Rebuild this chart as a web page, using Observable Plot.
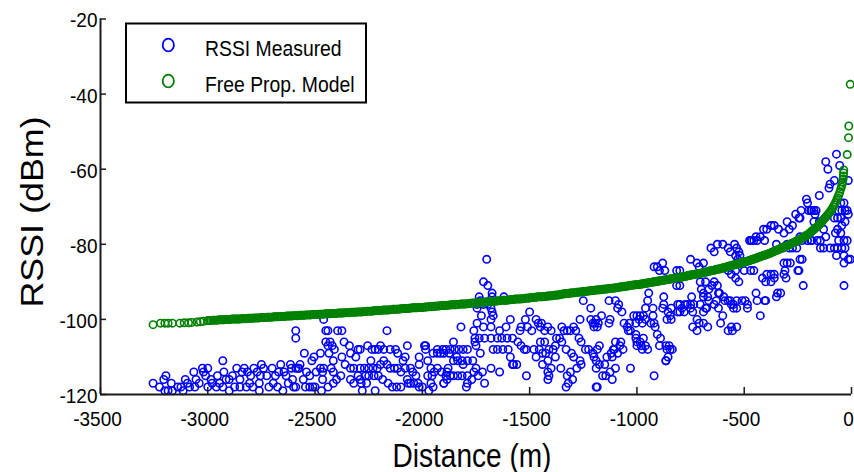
<!DOCTYPE html>
<html>
<head>
<meta charset="utf-8">
<script src="https://cdn.jsdelivr.net/npm/d3@7"></script>
<script src="https://cdn.jsdelivr.net/npm/@observablehq/plot@0.6"></script>
<style>
  body { margin: 0; background: #fff; }
  #chart { width: 854px; height: 472px; }
</style>
</head>
<body>
<div id="chart"></div>
<script>
// ---------- data ----------
const xTicks = [-3500, -3000, -2500, -2000, -1500, -1000, -500, 0];
const yTicks = [-120, -100, -80, -60, -40, -20];
const seriesNames = ["RSSI Measured", "Free Prop. Model"];
const seriesColors = ["#0000ff", "#008000"];
const xLabel = "Distance (m)";
const yLabel = "RSSI (dBm)";

// [distance (m), RSSI (dBm)]
const measured = [
  [-3255,-117],[-3225,-118],[-3205,-116],[-3195,-115],[-3200,-119],[-3185,-119],[-3170,-117],[-3165,-119],[-3140,-118],[-3125,-118],
  [-3115,-119],[-3105,-116],[-3095,-117],[-3085,-118],[-3065,-114],[-3060,-118],[-3055,-116],[-3040,-117],[-3025,-113],[-3020,-114],
  [-3010,-115],[-3000,-113],[-3000,-118],[-2985,-116],[-2980,-117],[-2960,-118],[-2955,-115],[-2945,-117],[-2930,-111],[-2930,-118],
  [-2925,-114],[-2915,-116],[-2900,-116],[-2900,-119],[-2885,-115],[-2875,-118],[-2865,-113],[-2850,-118],[-2850,-116],[-2840,-114],
  [-2830,-113],[-2820,-118],[-2815,-114],[-2805,-117],[-2800,-115],[-2790,-118],[-2785,-113],[-2770,-114],[-2760,-117],[-2760,-119],
  [-2755,-115],[-2750,-112],[-2740,-113],[-2725,-115],[-2715,-118],[-2700,-113],[-2695,-117],[-2685,-115],[-2675,-118],[-2670,-114],
  [-2660,-112],[-2650,-119],[-2645,-114],[-2635,-115],[-2625,-117],[-2615,-112],[-2605,-116],[-2600,-118],[-2590,-103],[-2590,-105],
  [-2580,-113],
  [-2610,-113],[-2590,-113],[-2575,-113],[-2570,-112],[-2550,-109],[-2540,-114],[-2545,-118],[-2525,-118],[-2510,-118],[-2500,-118],
  [-2590,-118],[-2515,-111],[-2505,-110],[-2475,-113],[-2465,-114],[-2460,-113],[-2475,-109],[-2450,-103],[-2440,-103],[-2460,-100],
  [-2450,-106],[-2440,-107],[-2430,-106],[-2420,-107],[-2410,-108],[-2435,-109],[-2415,-111],[-2395,-103],[-2375,-103],[-2425,-113],
  [-2415,-114],[-2380,-115],[-2415,-117],[-2400,-116],[-2365,-106],[-2375,-110],[-2360,-112],[-2340,-107],[-2335,-109],[-2335,-113],
  [-2320,-113],[-2300,-108],[-2290,-108],[-2290,-113],[-2270,-113],[-2250,-113],[-2230,-113],[-2210,-113],[-2255,-107],[-2235,-108],
  [-2220,-108],[-2335,-116],[-2320,-117],[-2300,-115],[-2290,-116],[-2280,-119],[-2265,-115],[-2250,-115],[-2225,-115],[-2205,-115],
  [-2285,-117],[-2260,-117],[-2205,-108],[-2195,-107],[-2180,-108],[-2165,-103],[-2150,-108],[-2165,-112],[-2150,-113],[-2130,-113],
  [-2115,-113],[-2125,-108],[-2115,-109],[-2140,-118],[-2120,-118],[-2100,-118],[-2080,-110],[-2070,-107],[-2090,-111],[-2080,-113],
  [-2070,-116],[-2065,-117],[-2055,-113],[-2045,-114],[-2030,-115],[-2015,-110],[-2015,-112],[-2055,-117],[-2040,-117],[-2020,-117],
  [-2015,-118],[-2000,-118],[-1985,-107],[-1985,-108],[-1975,-111],[-1960,-113],[-1945,-114],[-1930,-113],[-1975,-115],[-1955,-115],
  [-1910,-114],[-1890,-115],[-1950,-118],[-1930,-109],[-1915,-109],[-1900,-109],[-1875,-109],[-1900,-117],[-1885,-116],[-2195,-112],
  [-2240,-111],[-2310,-110],[-2180,-111],[-2100,-114],[-2185,-116],[-2160,-117],[-2220,-119],[-2465,-116],[-2495,-114],[-2525,-115],
  [-2555,-116],[-2440,-118],[-2470,-119],[-1970,-119],[-1960,-117],[-1950,-109],[-1930,-108],[-1905,-108],[-1990,-107],
  [-1700,-84],[-1715,-90],[-1695,-91],[-1675,-93],[-1675,-94],[-1735,-94],[-1730,-95],[-1745,-96],[-1745,-97],[-1715,-96],
  [-1695,-96],[-1620,-94],[-1680,-97],[-1675,-98],[-1670,-99],[-1680,-100],[-1725,-99],[-1745,-101],[-1820,-102],[-1760,-103],
  [-1715,-102],[-1680,-102],[-1640,-103],[-1610,-102],[-1590,-100],[-1650,-105],[-1630,-105],[-1605,-105],[-1580,-105],[-1755,-105],
  [-1735,-105],[-1710,-105],[-1680,-105],[-1755,-106],[-1750,-107],[-1890,-108],[-1870,-108],[-1850,-108],[-1830,-108],[-1810,-108],
  [-1790,-108],[-1855,-106],[-1855,-111],[-1835,-111],[-1815,-111],[-1790,-111],[-1885,-114],[-1855,-115],[-1835,-115],[-1815,-115],
  [-1790,-115],[-1760,-114],[-1900,-117],[-1795,-118],[-1710,-117],[-1680,-113],[-1640,-114],[-1670,-108],[-1650,-108],[-1625,-108],
  [-1600,-108],[-1575,-112],[-1500,-98],[-1520,-100],[-1540,-102],[-1545,-103],[-1510,-102],[-1490,-103],[-1470,-100],[-1460,-101],
  [-1445,-101],[-1555,-106],[-1540,-107],[-1515,-108],[-1525,-108],[-1515,-115],[-1480,-108],[-1455,-108],[-1440,-109],[-1425,-109],
  [-1410,-108],[-1390,-108],[-1450,-102],[-1430,-103],[-1415,-102],[-1400,-103],[-1450,-106],[-1430,-106],[-1415,-111],[-1415,-114],
  [-1415,-116],[-1380,-107],[-1375,-105],[-1360,-105],[-1350,-102],[-1340,-103],[-1325,-103],[-1310,-103],[-1295,-102],[-1285,-103],
  [-1355,-113],[-1325,-115],[-1330,-118],[-1310,-114],[-1265,-100],[-1250,-95],[-1215,-97],[-1270,-105],[-1260,-106],[-1240,-108],
  [-1225,-108],[-1205,-109],[-1215,-100],[-1200,-102],[-1190,-100],[-1185,-102],[-1190,-111],[-1190,-113],[-1190,-118],[-1350,-106],
  [-1330,-108],[-1305,-109],[-1295,-110],[-1265,-111],[-1260,-112],[-1880,-113],[-1870,-115],[-1840,-110],[-1810,-112],[-1770,-116],
  [-1750,-113],[-1740,-115],[-1720,-114],[-1765,-111],[-1730,-109],[-1790,-117],[-1580,-112],[-1590,-110],[-1560,-112],[-1470,-110],
  [-1440,-112],[-1400,-113],[-1380,-110],[-1300,-116],[-1280,-113],[-1320,-117],[-1410,-115],
  [-1205,-101],[-1195,-101],[-1180,-101],[-1165,-99],[-1130,-95],[-1100,-95],[-1090,-97],[-1085,-96],[-1070,-98],[-1125,-100],
  [-1130,-101],[-1060,-101],[-1045,-102],[-1035,-101],[-1040,-103],[-1015,-99],[-1000,-99],[-985,-99],[-970,-99],[-975,-101],
  [-960,-100],[-1005,-101],[-990,-100],[-925,-97],[-925,-99],[-920,-86],[-905,-86],[-895,-87],[-880,-85],[-870,-87],
  [-945,-93],[-950,-95],[-960,-97],[-875,-94],[-875,-96],[-880,-97],[-815,-87],[-800,-87],[-815,-91],[-800,-91],
  [-855,-98],[-845,-99],[-840,-97],[-810,-96],[-800,-96],[-790,-97],[-775,-96],[-765,-96],[-750,-96],[-745,-94],
  [-735,-96],[-705,-96],[-935,-101],[-915,-102],[-905,-104],[-890,-105],[-895,-107],[-860,-100],[-840,-100],[-810,-98],
  [-800,-98],[-780,-98],[-750,-97],[-740,-98],[-720,-100],[-710,-101],[-690,-98],[-860,-108],[-855,-110],[-845,-108],
  [-865,-111],[-920,-115],[-1030,-113],[-1005,-104],[-1000,-106],[-985,-106],[-970,-105],[-960,-107],[-950,-108],[-975,-108],
  [-1005,-105],[-1000,-107],[-980,-107],[-1075,-106],[-1080,-107],[-1100,-106],[-1105,-108],[-1115,-110],[-1120,-109],[-1090,-109],
  [-1065,-108],[-1110,-108],[-1185,-108],[-1175,-107],[-1200,-110],[-1175,-112],[-1150,-112],[-1140,-110],[-1125,-114],[-1100,-113],
  [-1160,-115],[-1145,-115],[-1115,-116],[-1185,-118],[-750,-84],[-720,-85],[-710,-86],[-690,-85],[-655,-81],[-640,-82],
  [-625,-80],[-600,-80],[-575,-81],[-545,-80],[-705,-90],[-680,-90],[-650,-91],[-640,-90],[-690,-94],[-665,-95],
  [-700,-92],[-690,-93],[-670,-94],[-665,-92],[-675,-97],[-680,-97],[-640,-96],[-630,-95],[-600,-99],[-610,-101],
  [-575,-103],[-560,-102],[-535,-97],[-620,-97],[-560,-96],[-550,-97],[-575,-87],[-560,-88],[-540,-87],[-530,-84],
  [-520,-83],[-595,-94],[-615,-93],[-625,-91],[-620,-93],[-590,-95],[-575,-95],[-485,-97],[-690,-101],[-670,-102],
  [-740,-102],[-720,-103],[-865,-107],[-850,-107],[-835,-108],[-865,-111],[-1030,-103],[-920,-101],
  [-70,-56],[-120,-58],[-110,-60],[-55,-59],[-15,-63],[-100,-64],[-80,-63],[-105,-65],[-150,-67],[-210,-68],
  [-205,-69],[-190,-71],[-175,-71],[-165,-71],[-170,-72],[-185,-71],[-200,-71],[-50,-69],[-35,-69],[-60,-71],
  [-45,-71],[-20,-71],[-15,-72],[-30,-71],[-235,-71],[-245,-73],[-260,-72],[-240,-73],[-300,-74],[-275,-75],
  [-290,-76],[-315,-77],[-340,-76],[-360,-75],[-375,-75],[-395,-76],[-410,-76],[-425,-78],[-440,-79],[-445,-78],
  [-465,-79],[-470,-79],[-475,-79],[-455,-79],[-405,-79],[-175,-74],[-150,-74],[-130,-76],[-120,-78],[-145,-79],
  [-160,-79],[-185,-79],[-190,-79],[-205,-79],[-215,-78],[-230,-79],[-240,-78],[-80,-73],[-65,-73],[-50,-73],
  [-45,-75],[-30,-74],[-65,-76],[-75,-77],[-60,-79],[-50,-77],[-35,-79],[-20,-79],[-30,-81],[-45,-81],
  [-35,-83],[-15,-84],[-5,-84],[-35,-85],[-100,-81],[-80,-81],[-65,-81],[-70,-83],[-145,-81],[-130,-81],
  [-255,-81],[-275,-81],[-350,-80],[-320,-81],[-300,-80],[-290,-81],[-230,-84],[-245,-87],[-240,-84],[-315,-85],
  [-300,-85],[-285,-85],[-310,-87],[-250,-87],[-315,-88],[-305,-89],[-360,-88],[-375,-88],[-395,-88],[-415,-89],
  [-400,-90],[-375,-90],[-360,-89],[-345,-93],[-330,-93],[-350,-94],[-445,-93],[-440,-95],[-400,-95],[-405,-95],
  [-425,-99],[-495,-95],[-485,-96],[-510,-95],[-535,-95],[-565,-95],[-550,-96],[-535,-102],[-555,-103],[-470,-87],
  [-455,-87],[-500,-87],[-540,-89],[-525,-90],[-565,-82],[-535,-81],[-525,-82],[-540,-83],[-35,-91],[-225,-91]
];

// [distance (m), model RSSI (dBm)]
const model = [
  [-3255,-101.4],[-3220,-101.0],[-3200,-101.0],[-3185,-101.0],[-3165,-101.0],[-3130,-101.0],[-3110,-100.9],[-3090,-100.9],[-3075,-100.8],[-3050,-100.7],[-3035,-100.6],[-3020,-100.5],
  [-3000,-100.3],[-2985,-100.3],[-2970,-100.2],[-2955,-100.2],[-2940,-100.1],[-2925,-100.1],[-2910,-100.0],[-2895,-100.0],[-2880,-99.9],[-2865,-99.9],[-2850,-99.9],[-2835,-99.8],[-2820,-99.8],[-2805,-99.7],
  [-2790,-99.7],[-2775,-99.6],[-2760,-99.6],[-2745,-99.5],[-2730,-99.5],[-2715,-99.4],[-2700,-99.4],[-2685,-99.3],[-2670,-99.3],[-2655,-99.2],[-2640,-99.2],[-2625,-99.1],[-2610,-99.1],
  [-2595,-99.0],[-2580,-99.0],[-2565,-98.9],[-2550,-98.9],[-2535,-98.8],[-2520,-98.8],[-2505,-98.7],[-2490,-98.7],[-2475,-98.6],[-2460,-98.6],[-2445,-98.5],[-2430,-98.5],[-2415,-98.4],[-2400,-98.4],
  [-2385,-98.3],[-2370,-98.3],[-2355,-98.2],[-2340,-98.2],[-2325,-98.1],[-2310,-98.1],[-2295,-98.0],[-2280,-98.0],[-2265,-97.9],[-2250,-97.8],[-2235,-97.8],[-2220,-97.7],[-2205,-97.6],
  [-2190,-97.6],[-2175,-97.5],[-2160,-97.5],[-2145,-97.4],[-2130,-97.3],[-2115,-97.3],[-2100,-97.2],[-2085,-97.1],[-2070,-97.1],[-2055,-97.0],[-2040,-96.9],[-2025,-96.9],[-2010,-96.8],
  [-1995,-96.8],[-1980,-96.7],[-1965,-96.6],[-1950,-96.6],[-1935,-96.5],[-1920,-96.4],[-1905,-96.3],[-1890,-96.3],[-1875,-96.2],[-1860,-96.1],[-1845,-96.1],[-1830,-96.0],[-1815,-95.9],[-1800,-95.9],
  [-1785,-95.8],[-1770,-95.7],[-1755,-95.6],[-1740,-95.6],[-1725,-95.5],[-1710,-95.4],[-1695,-95.3],[-1680,-95.3],[-1665,-95.2],[-1650,-95.1],[-1635,-95.0],[-1620,-94.9],[-1605,-94.9],
  [-1590,-94.8],[-1575,-94.7],[-1560,-94.6],[-1545,-94.6],[-1530,-94.5],[-1515,-94.4],[-1500,-94.3],[-1485,-94.2],[-1470,-94.1],[-1455,-94.0],[-1440,-94.0],[-1425,-93.9],[-1410,-93.8],
  [-1395,-93.7],[-1380,-93.6],[-1365,-93.5],[-1350,-93.3],[-1335,-93.2],[-1320,-93.1],[-1305,-93.0],[-1290,-92.9],[-1275,-92.8],[-1260,-92.7],[-1245,-92.6],[-1230,-92.5],[-1215,-92.4],
  [-1200,-92.3],[-1185,-92.2],[-1170,-92.1],[-1155,-92.0],[-1140,-91.9],[-1125,-91.8],[-1110,-91.7],[-1095,-91.6],[-1080,-91.4],[-1065,-91.3],[-1050,-91.2],[-1035,-91.0],[-1020,-90.9],[-1005,-90.8],
  [-990,-90.7],[-980,-90.6],[-970,-90.5],[-960,-90.4],[-950,-90.3],[-940,-90.2],[-930,-90.1],[-920,-90.0],[-910,-89.9],[-900,-89.8],[-890,-89.7],[-880,-89.6],[-870,-89.5],[-860,-89.4],[-850,-89.3],[-840,-89.2],[-830,-89.1],[-820,-89.0],[-810,-88.9],
  [-800,-88.8],[-790,-88.7],[-780,-88.6],[-770,-88.5],[-760,-88.3],[-750,-88.2],[-740,-88.1],[-730,-88.0],[-720,-87.9],[-710,-87.8],
  [-700,-87.7],[-690,-87.5],[-680,-87.4],[-670,-87.3],[-660,-87.1],[-650,-87.0],[-640,-86.9],[-630,-86.7],[-620,-86.6],[-610,-86.5],
  [-600,-86.3],[-590,-86.2],[-580,-86.0],[-570,-85.8],[-560,-85.7],[-550,-85.5],[-540,-85.4],[-530,-85.2],[-520,-85.1],[-510,-84.9],
  [-500,-84.7],[-490,-84.6],[-480,-84.4],[-470,-84.2],[-460,-84.0],[-450,-83.8],[-440,-83.6],[-430,-83.4],[-420,-83.2],[-410,-83.0],
  [-400,-82.8],[-390,-82.6],[-380,-82.4],[-370,-82.1],[-360,-81.9],[-350,-81.6],[-340,-81.4],[-330,-81.1],[-320,-80.9],[-310,-80.6],
  [-300,-80.4],[-295,-80.3],[-290,-80.1],[-285,-80.0],[-280,-79.8],[-275,-79.7],[-270,-79.6],[-265,-79.4],[-260,-79.3],[-255,-79.1],
  [-250,-79.0],[-245,-78.8],[-240,-78.7],[-235,-78.5],[-230,-78.3],[-225,-78.2],[-220,-78.0],[-215,-77.8],[-210,-77.6],[-205,-77.5],
  [-200,-77.3],[-195,-77.0],[-190,-76.8],[-185,-76.5],[-180,-76.3],[-175,-76.0],[-170,-75.8],[-165,-75.5],[-160,-75.3],[-155,-75.0],
  [-150,-74.8],[-145,-74.5],[-140,-74.1],[-135,-73.8],[-130,-73.4],[-125,-73.1],[-120,-72.8],[-115,-72.4],[-110,-72.1],[-105,-71.7],
  [-100,-71.4],[-95,-70.9],[-90,-70.5],[-85,-70.0],[-80,-69.5],[-75,-68.9],[-70,-68.3],[-65,-67.6],[-60,-67.0],[-55,-66.2],
  [-50,-65.3],[-47,-64.7],[-44,-64.1],[-41,-63.4],[-39,-62.6],[-38,-61.8],[-37,-61.0],[-36,-60.2],
  [-20,-56.1],[-14,-51.6],[-12.5,-48.5],[-6,-37.4]
];

// further model points in between (the band is densely sampled in the reference)
const modelDense = [
  [-2992,-100.3],[-2977,-100.2],[-2962,-100.2],[-2947,-100.1],[-2932,-100.1],[-2917,-100.0],[-2902,-100.0],[-2887,-99.9],[-2872,-99.9],[-2857,-99.9],[-2842,-99.8],[-2827,-99.8],[-2812,-99.7],[-2797,-99.7],
  [-2782,-99.6],[-2767,-99.6],[-2752,-99.5],[-2737,-99.5],[-2722,-99.4],[-2707,-99.4],[-2692,-99.3],[-2677,-99.3],[-2662,-99.2],[-2647,-99.2],[-2632,-99.1],[-2617,-99.1],[-2602,-99.0],
  [-2587,-99.0],[-2572,-98.9],[-2557,-98.9],[-2542,-98.8],[-2527,-98.8],[-2512,-98.7],[-2497,-98.7],[-2482,-98.6],[-2467,-98.6],[-2452,-98.5],[-2437,-98.5],[-2422,-98.4],[-2407,-98.4],[-2392,-98.3],
  [-2377,-98.3],[-2362,-98.2],[-2347,-98.2],[-2332,-98.1],[-2317,-98.1],[-2302,-98.0],[-2287,-98.0],[-2272,-97.9],[-2257,-97.8],[-2242,-97.8],[-2227,-97.7],[-2212,-97.6],[-2197,-97.6],
  [-2182,-97.5],[-2167,-97.5],[-2152,-97.4],[-2137,-97.3],[-2122,-97.3],[-2107,-97.2],[-2092,-97.1],[-2077,-97.1],[-2062,-97.0],[-2047,-96.9],[-2032,-96.9],[-2017,-96.8],[-2002,-96.8],
  [-1987,-96.7],[-1972,-96.6],[-1957,-96.6],[-1942,-96.5],[-1927,-96.4],[-1912,-96.3],[-1897,-96.3],[-1882,-96.2],[-1867,-96.1],[-1852,-96.1],[-1837,-96.0],[-1822,-95.9],[-1807,-95.9],[-1792,-95.8],
  [-1777,-95.7],[-1762,-95.6],[-1747,-95.6],[-1732,-95.5],[-1717,-95.4],[-1702,-95.3],[-1687,-95.3],[-1672,-95.2],[-1657,-95.1],[-1642,-95.0],[-1627,-94.9],[-1612,-94.9],[-1597,-94.8],
  [-1582,-94.7],[-1567,-94.6],[-1552,-94.6],[-1537,-94.5],[-1522,-94.4],[-1507,-94.3],[-1492,-94.2],[-1477,-94.1],[-1462,-94.0],[-1447,-94.0],[-1432,-93.9],[-1417,-93.8],[-1402,-93.7],
  [-1387,-93.6],[-1372,-93.5],[-1357,-93.4],[-1342,-93.2],[-1327,-93.1],[-1312,-93.0],[-1297,-92.9],[-1282,-92.8],[-1267,-92.7],[-1252,-92.6],[-1237,-92.5],[-1222,-92.4],[-1207,-92.3],
  [-1192,-92.2],[-1177,-92.1],[-1162,-92.0],[-1147,-91.9],[-1132,-91.8],[-1117,-91.7],[-1102,-91.6],[-1087,-91.5],[-1072,-91.3],[-1057,-91.2],[-1042,-91.1],[-1027,-90.9],[-1012,-90.8],[-997,-90.7],
  [-985,-90.65],[-975,-90.55],[-965,-90.45],[-955,-90.35],[-945,-90.25],[-935,-90.15],[-925,-90.05],[-915,-89.95],[-905,-89.85],[-895,-89.75],[-885,-89.65],[-875,-89.55],[-865,-89.45],[-855,-89.35],[-845,-89.25],[-835,-89.15],[-825,-89.05],[-815,-88.95],[-805,-88.85],
  [-795,-88.75],[-785,-88.65],[-775,-88.55],[-765,-88.4],[-755,-88.25],[-745,-88.15],[-735,-88.05],[-725,-87.95],[-715,-87.85],[-705,-87.75],
  [-695,-87.6],[-685,-87.45],[-675,-87.35],[-665,-87.2],[-655,-87.05],[-645,-86.95],[-635,-86.8],[-625,-86.65],[-615,-86.55],[-605,-86.4],
  [-595,-86.25],[-585,-86.1],[-575,-85.9],[-565,-85.75],[-555,-85.6],[-545,-85.45],[-535,-85.3],[-525,-85.15],[-515,-85.0],[-505,-84.8],
  [-495,-84.65],[-485,-84.5],[-475,-84.3],[-465,-84.1],[-455,-83.9],[-445,-83.7],[-435,-83.5],[-425,-83.3],[-415,-83.1],[-405,-82.9],
  [-395,-82.7],[-385,-82.5],[-375,-82.25],[-365,-82.0],[-355,-81.75],[-345,-81.5],[-335,-81.25],[-325,-81.0],[-315,-80.75],[-305,-80.5]
];

// ---------- chart ----------
const W = 854, H = 472;
const mL = 100, mR = 3, mT = 18.5, mB = 78;
const innerW = W - mL - mR, innerH = H - mT - mB;
const font = "'Liberation Sans', Arial, Helvetica, sans-serif";
const axisColor = "#1a1a1a";
const dotR = 3.7, dotSW = 1.6;
const modelAll = model.concat(modelDense);

const svg = Plot.plot({
  width: W, height: H,
  marginLeft: mL, marginRight: mR, marginTop: mT, marginBottom: mB,
  style: { fontFamily: font, fontSize: "20px", background: "#fff", color: "#000" },
  x: { domain: [xTicks[0], xTicks[xTicks.length - 1]], axis: null },
  y: { domain: [yTicks[0], yTicks[yTicks.length - 1]], axis: null },
  marks: [
    Plot.dot(measured, { x: d => d[0], y: d => d[1], r: dotR, stroke: seriesColors[0], strokeWidth: dotSW, fill: "none" }),
    Plot.dot(modelAll, { x: d => d[0], y: d => d[1], r: dotR, stroke: seriesColors[1], strokeWidth: dotSW, fill: "none" }),
    // inward tick marks
    Plot.ruleX(xTicks, { x: d => d, insetTop: innerH - 7, stroke: axisColor, strokeWidth: 1.5 }),
    Plot.ruleY(yTicks, { y: d => d, insetRight: innerW - 6, stroke: axisColor, strokeWidth: 1.5 }),
    // axis lines
    Plot.ruleY([yTicks[0]], { stroke: axisColor, strokeWidth: 2 }),
    Plot.ruleX([xTicks[0]], { stroke: axisColor, strokeWidth: 2 }),
    // tick labels
    Plot.axisX({ ticks: xTicks, tickSize: 0, tickPadding: 17, tickFormat: d => String(d), fontSize: 20, label: null, dx: -3 }),
    Plot.axisY({ ticks: yTicks, tickSize: 0, tickPadding: 3, tickFormat: d => String(d), fontSize: 20, label: null, dy: 2 })
  ]
});

// condense tick labels slightly (reference font is a little narrower)
svg.querySelectorAll('g[aria-label="x-axis tick label"] text, g[aria-label="y-axis tick label"] text').forEach(t => {
  const tr = t.getAttribute("transform") || "";
  t.setAttribute("transform", tr + " scale(0.95,1)");
});

const s = d3.select(svg);
// axis titles
s.append("text")
  .attr("transform", "translate(472,467) scale(0.85,1)")
  .attr("text-anchor", "middle")
  .attr("font-family", font).attr("font-size", 33).attr("fill", "#000")
  .text(xLabel);
s.append("text")
  .attr("transform", "translate(43,212) rotate(-90) scale(1.12,1)")
  .attr("text-anchor", "middle")
  .attr("font-family", font).attr("font-size", 32).attr("fill", "#000")
  .text(yLabel);

// legend
const lg = s.append("g").attr("aria-label", "legend");
lg.append("rect").attr("x", 126).attr("y", 23.5).attr("width", 240).attr("height", 79)
  .attr("fill", "#fff").attr("stroke", "#000").attr("stroke-width", 2);
seriesNames.forEach((name, i) => {
  const cy = 45 + i * 36;
  lg.append("ellipse").attr("cx", 168.3).attr("cy", cy).attr("rx", 5.6).attr("ry", 6.4)
    .attr("fill", "none").attr("stroke", seriesColors[i]).attr("stroke-width", 1.8);
  lg.append("text")
    .attr("transform", `translate(205,${cy + 10.5}) scale(0.88,1)`)
    .attr("text-anchor", "start")
    .attr("font-family", font).attr("font-size", 22).attr("fill", "#000")
    .text(name);
});

document.getElementById("chart").appendChild(svg);
</script>
</body>
</html>
